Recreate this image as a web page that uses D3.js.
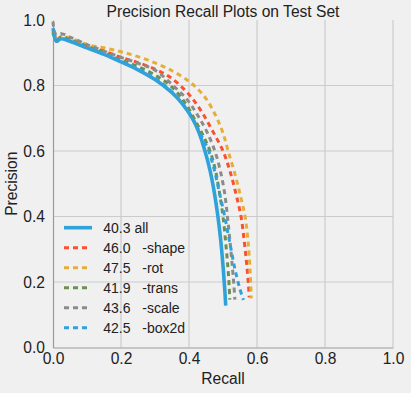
<!DOCTYPE html>
<html><head><meta charset="utf-8">
<script src="https://cdn.jsdelivr.net/npm/d3@7"></script>
<style>
html,body{margin:0;padding:0;background:#f0f0f0;}
svg{display:block;font-family:"Liberation Sans",Arial,sans-serif;}
</style></head>
<body><svg id="c" width="411" height="393"></svg>
<script>
const title = "Precision Recall Plots on Test Set";
const xLabel = "Recall", yLabel = "Precision";
const tickValues = [0.0, 0.2, 0.4, 0.6, 0.8, 1.0];

const seriesNames = ["all", "-shape", "-rot", "-trans", "-scale", "-box2d"];
const seriesAP = ["40.3", "46.0", "47.5", "41.9", "43.6", "42.5"];
const seriesColors = ["#30a2da", "#fc4f30", "#e5ae38", "#6d904f", "#8b8b8b", "#30a2da"];

const recallAll = [0.000,0.004,0.010,0.020,0.030,0.050,0.100,0.150,0.200,0.250,0.300,0.350,0.380,0.410,0.430,0.447,0.462,0.475,0.485,0.493,0.500,0.505,0.508];
const precAll   = [0.975,0.955,0.935,0.942,0.942,0.935,0.915,0.895,0.872,0.848,0.818,0.778,0.745,0.700,0.655,0.600,0.540,0.470,0.400,0.330,0.250,0.180,0.128];

const recallShape = [0.000,0.005,0.012,0.025,0.050,0.100,0.150,0.200,0.250,0.300,0.340,0.374,0.410,0.440,0.470,0.500,0.520,0.538,0.553,0.563,0.570,0.575,0.577];
const precShape   = [0.960,0.950,0.940,0.950,0.943,0.922,0.905,0.886,0.870,0.850,0.828,0.800,0.760,0.715,0.660,0.600,0.540,0.470,0.400,0.320,0.250,0.190,0.153];

const recallRot = [0.000,0.005,0.012,0.025,0.050,0.100,0.150,0.200,0.250,0.300,0.350,0.394,0.420,0.450,0.480,0.500,0.515,0.535,0.552,0.565,0.574,0.580,0.583];
const precRot   = [0.960,0.950,0.940,0.950,0.945,0.925,0.915,0.903,0.888,0.869,0.845,0.817,0.795,0.760,0.705,0.655,0.600,0.530,0.460,0.400,0.320,0.230,0.150];

const recallTrans = [0.000,0.005,0.012,0.025,0.050,0.100,0.150,0.200,0.250,0.300,0.345,0.390,0.420,0.445,0.462,0.478,0.490,0.500,0.508,0.514,0.518,0.520];
const precTrans   = [0.965,0.950,0.940,0.948,0.940,0.920,0.900,0.878,0.858,0.832,0.800,0.745,0.690,0.640,0.600,0.540,0.470,0.400,0.320,0.250,0.190,0.146];

const recallScale = [0.000,0.004,0.010,0.025,0.050,0.100,0.150,0.200,0.250,0.300,0.353,0.395,0.425,0.452,0.476,0.492,0.505,0.513,0.521,0.528,0.532,0.535];
const precScale   = [0.995,0.965,0.955,0.958,0.948,0.925,0.905,0.886,0.868,0.847,0.800,0.756,0.710,0.660,0.600,0.540,0.470,0.400,0.320,0.240,0.190,0.146];

const recallBox2d = [0.000,0.005,0.012,0.025,0.050,0.100,0.150,0.200,0.250,0.300,0.340,0.385,0.415,0.440,0.458,0.475,0.490,0.505,0.520,0.535,0.548,0.560];
const precBox2d   = [0.960,0.945,0.935,0.945,0.937,0.917,0.897,0.875,0.851,0.822,0.790,0.740,0.690,0.640,0.600,0.540,0.470,0.400,0.320,0.240,0.185,0.145];

const recalls = [recallAll, recallShape, recallRot, recallTrans, recallScale, recallBox2d];
const precs = [precAll, precShape, precRot, precTrans, precScale, precBox2d];

const svg = d3.select("#c");
const L = 53, R = 393, T = 20, B = 347.5;
const x = d3.scaleLinear().domain([0, 1]).range([L, R]);
const y = d3.scaleLinear().domain([0, 1]).range([B, T]);

svg.append("rect").attr("width", 411).attr("height", 393).attr("fill", "#f0f0f0");

// grid
const g = svg.append("g");
g.selectAll(".gx").data(tickValues.filter(v => v > 0)).enter().append("line")
  .attr("x1", d => x(d)).attr("x2", d => x(d)).attr("y1", T).attr("y2", B)
  .attr("stroke", "#cbcbcb").attr("stroke-width", 1.2);
g.selectAll(".gy").data(tickValues.filter(v => v > 0 && v < 1)).enter().append("line")
  .attr("y1", d => y(d)).attr("y2", d => y(d)).attr("x1", L).attr("x2", R)
  .attr("stroke", "#cbcbcb").attr("stroke-width", 1.2);

// axes via d3
const fmt = d3.format(".1f");
const xAxis = svg.append("g").attr("transform", `translate(0,${B})`)
  .call(d3.axisBottom(x).tickValues(tickValues).tickFormat(fmt).tickSize(0).tickPadding(5));
const yAxis = svg.append("g").attr("transform", `translate(${L},0)`)
  .call(d3.axisLeft(y).tickValues(tickValues).tickFormat(fmt).tickSize(0).tickPadding(8));
[xAxis, yAxis].forEach(a => {
  a.select(".domain").attr("stroke", "#9a9a9a").attr("stroke-width", 1.2);
  a.selectAll("text").attr("fill", "#222").style("font-size", "15.6px")
    .style("font-family", '"Liberation Sans", Arial, sans-serif');
});

// lines
const line = d3.line().x(d => x(d[0])).y(d => y(d[1])).curve(d3.curveCatmullRom.alpha(0.5));
recalls.forEach((rs, i) => {
  const pts = rs.map((r, k) => [r, precs[i][k]]);
  svg.append("path").attr("d", line(pts)).attr("fill", "none")
    .attr("stroke", seriesColors[i])
    .attr("stroke-width", i === 0 ? 3.6 : 3)
    .attr("stroke-dasharray", i === 0 ? null : "5,4")
    .attr("stroke-linejoin", "round");
});

// legend
const lg = svg.append("g");
seriesNames.forEach((n, i) => {
  const yy = 227.7 + i * 20;
  lg.append("line").attr("x1", 64).attr("x2", i === 0 ? 92 : 87).attr("y1", yy).attr("y2", yy)
    .attr("stroke", seriesColors[i]).attr("stroke-width", i === 0 ? 3.6 : 3)
    .attr("stroke-dasharray", i === 0 ? null : "5,4");
  lg.append("text").attr("x", 103.3).attr("y", yy + 5).attr("fill", "#222")
    .style("font-size", "14px").style("white-space", "pre")
    .text(seriesAP[i] + (i === 0 ? " " : "   ") + n);
});

// title & labels
svg.append("text").attr("x", (L + R) / 2).attr("y", 17.3).attr("text-anchor", "middle")
  .attr("fill", "#222").style("font-size", "15.6px").text(title);
svg.append("text").attr("x", (L + R) / 2).attr("y", 384).attr("text-anchor", "middle")
  .attr("fill", "#222").style("font-size", "15.6px").text(xLabel);
svg.append("text").attr("transform", `translate(17,${(T + B) / 2}) rotate(-90)`)
  .attr("text-anchor", "middle").attr("fill", "#222").style("font-size", "15.6px").text(yLabel);
</script></body></html>
